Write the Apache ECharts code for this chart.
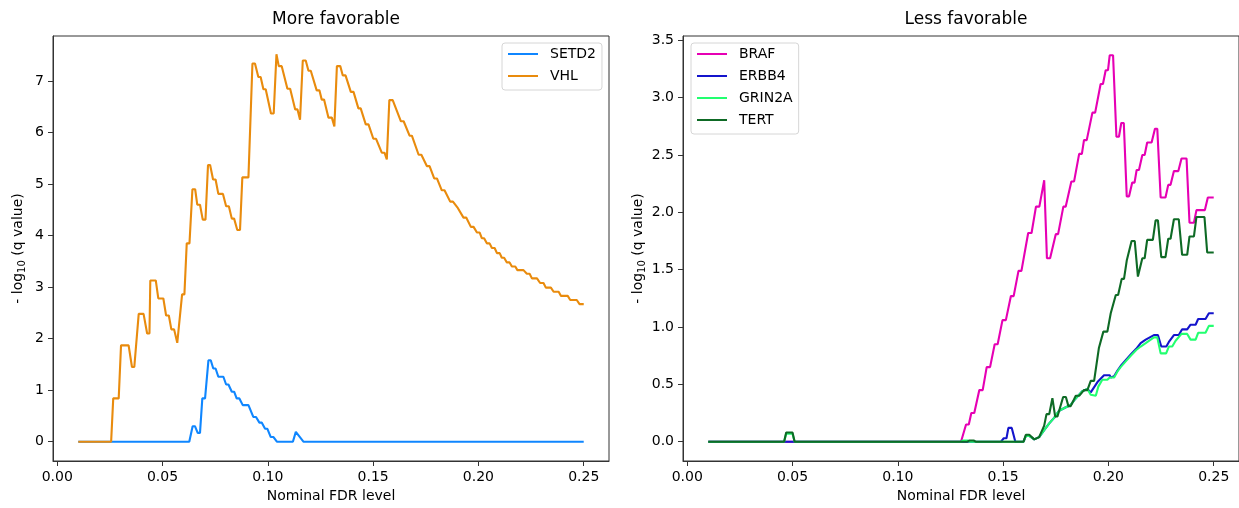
<!DOCTYPE html>
<html>
<head>
<meta charset="utf-8">
<script src="https://cdn.jsdelivr.net/npm/echarts@6/dist/echarts.min.js"></script>
<style>
  html, body { margin: 0; padding: 0; background: #fff; }
  #chart { width: 1239px; height: 508px; }
</style>
</head>
<body>
<div id="chart"></div>
<script>
// tick labels
var xTicks = [0, 0.05, 0.10, 0.15, 0.20, 0.25];
var leftYTicks = [0, 1, 2, 3, 4, 5, 6, 7];
var rightYTicks = [0, 0.5, 1.0, 1.5, 2.0, 2.5, 3.0, 3.5];

// More favorable: [FDR level, -log10 q]
var setd2 = [[0.01,0],[0.0627,0],[0.0643,0.30],[0.0654,0.30],[0.0667,0.17],[0.0678,0.17],[0.0689,0.84],[0.0702,0.84],
  [0.0718,1.58],[0.0729,1.58],[0.0741,1.42],[0.0752,1.42],[0.0765,1.26],[0.0789,1.26],[0.0802,1.11],[0.0813,1.11],
  [0.0829,0.97],[0.084,0.97],[0.0852,0.84],[0.0865,0.84],[0.0881,0.71],[0.0908,0.71],[0.0931,0.48],[0.0944,0.48],
  [0.096,0.37],[0.0971,0.37],[0.0987,0.25],[0.0998,0.25],[0.1014,0.09],[0.1027,0.09],[0.1043,0],[0.1119,0],
  [0.1133,0.19],[0.1141,0.19],[0.1169,0],[0.25,0]];

var vhl = [[0.01,0],[0.0256,0],[0.0266,0.84],[0.0292,0.84],[0.0303,1.87],[0.0339,1.87],[0.0355,1.45],[0.0366,1.45],
  [0.0387,2.48],[0.041,2.48],[0.0427,2.10],[0.0438,2.10],[0.0442,3.13],[0.0468,3.13],[0.048,2.78],[0.0504,2.78],
  [0.0517,2.45],[0.053,2.45],[0.0542,2.18],[0.0555,2.18],[0.057,1.92],[0.0577,1.92],[0.0593,2.86],[0.0604,2.86],
  [0.0615,3.85],[0.0628,3.85],[0.0642,4.90],[0.0655,4.90],[0.0665,4.60],[0.0678,4.60],[0.0691,4.31],[0.0704,4.31],
  [0.0716,5.37],[0.0726,5.37],[0.074,5.09],[0.0752,5.09],[0.0765,4.81],[0.0787,4.81],[0.0802,4.57],[0.0815,4.57],
  [0.0829,4.33],[0.084,4.33],[0.0855,4.11],[0.0868,4.11],[0.0879,5.13],[0.0908,5.13],[0.0927,7.34],[0.0939,7.34],
  [0.0955,7.08],[0.0966,7.08],[0.0979,6.84],[0.099,6.84],[0.1015,6.37],[0.1028,6.37],[0.1041,7.52],[0.1052,7.29],
  [0.1066,7.29],[0.1093,6.85],[0.1106,6.85],[0.113,6.45],[0.1141,6.45],[0.1153,6.25],[0.1166,7.40],[0.118,7.40],
  [0.1193,7.20],[0.1204,7.20],[0.1232,6.82],[0.1245,6.82],[0.1256,6.64],[0.1267,6.64],[0.1288,6.29],[0.1304,6.29],
  [0.1316,6.12],[0.1328,7.29],[0.1344,7.29],[0.1356,7.11],[0.1369,7.11],[0.1394,6.79],[0.1407,6.79],[0.143,6.47],
  [0.1441,6.47],[0.1465,6.16],[0.1478,6.16],[0.1501,5.88],[0.1514,5.88],[0.1541,5.61],[0.1554,5.61],[0.1565,5.48],
  [0.1577,6.63],[0.1593,6.63],[0.1632,6.22],[0.1645,6.22],[0.1673,5.94],[0.1684,5.94],[0.1716,5.57],[0.1729,5.57],
  [0.1755,5.35],[0.1768,5.35],[0.179,5.11],[0.1803,5.11],[0.1826,4.88],[0.1839,4.88],[0.1866,4.66],[0.1879,4.66],
  [0.19,4.55],[0.1929,4.35],[0.1942,4.35],[0.1964,4.17],[0.1977,4.17],[0.1993,4.06],[0.2006,4.06],[0.2016,3.95],
  [0.2027,3.95],[0.204,3.85],[0.2053,3.85],[0.2064,3.76],[0.2077,3.76],[0.2088,3.66],[0.2101,3.66],[0.2111,3.57],
  [0.2122,3.57],[0.2135,3.48],[0.2148,3.48],[0.2159,3.40],[0.2175,3.40],[0.2185,3.33],[0.2214,3.33],[0.223,3.26],
  [0.2243,3.26],[0.2254,3.17],[0.2278,3.17],[0.2293,3.08],[0.2309,3.08],[0.232,2.99],[0.2344,2.99],[0.2357,2.91],
  [0.2381,2.91],[0.2392,2.83],[0.2424,2.83],[0.2436,2.75],[0.2467,2.75],[0.248,2.67],[0.25,2.67]];

// Less favorable
var braf = [[0.01,0],[0.130,0],[0.1324,0.15],[0.1337,0.15],[0.1349,0.25],[0.1363,0.25],[0.1387,0.45],[0.1403,0.45],
  [0.1422,0.65],[0.1438,0.65],[0.146,0.85],[0.1474,0.85],[0.1497,1.06],[0.1513,1.06],[0.1537,1.27],[0.155,1.27],
  [0.1573,1.49],[0.1587,1.49],[0.1619,1.82],[0.1635,1.82],[0.1656,2.05],[0.1672,2.05],[0.1695,2.28],[0.1708,1.60],
  [0.1723,1.60],[0.175,1.81],[0.1761,1.81],[0.1786,2.05],[0.1797,2.05],[0.1824,2.27],[0.1837,2.27],[0.1861,2.51],
  [0.1874,2.51],[0.1884,2.63],[0.1897,2.63],[0.1924,2.87],[0.1937,2.87],[0.1963,3.12],[0.1974,3.12],[0.1987,3.24],
  [0.1998,3.24],[0.2006,3.37],[0.2022,3.37],[0.2038,2.66],[0.205,2.66],[0.2061,2.78],[0.2073,2.78],[0.2087,2.14],
  [0.2098,2.14],[0.2113,2.26],[0.2124,2.26],[0.2134,2.37],[0.2145,2.37],[0.2161,2.50],[0.2172,2.50],[0.2184,2.61],
  [0.2205,2.61],[0.2221,2.73],[0.2232,2.73],[0.2248,2.13],[0.2271,2.13],[0.2284,2.24],[0.2295,2.24],[0.2311,2.36],
  [0.2332,2.36],[0.2347,2.47],[0.2371,2.47],[0.2385,1.91],[0.2406,1.91],[0.2418,2.02],[0.2458,2.02],[0.2472,2.13],
  [0.25,2.13]];

var erbb4 = [[0.01,0],[0.149,0],[0.1503,0.03],[0.1516,0.03],[0.1525,0.12],[0.1541,0.12],[0.1558,0],[0.1597,0],
  [0.1608,0.05],[0.1624,0.05],[0.1648,0.02],[0.1671,0.04],[0.1695,0.10],[0.1719,0.16],[0.1743,0.21],[0.1766,0.27],
  [0.1798,0.30],[0.1821,0.32],[0.1837,0.36],[0.1861,0.41],[0.1876,0.44],[0.19,0.46],[0.1916,0.43],[0.1924,0.43],
  [0.1948,0.52],[0.1979,0.58],[0.2006,0.58],[0.2011,0.56],[0.2027,0.57],[0.2043,0.62],[0.2058,0.66],[0.2082,0.71],
  [0.2106,0.76],[0.2132,0.81],[0.2153,0.86],[0.2177,0.89],[0.2216,0.93],[0.2235,0.93],[0.2251,0.83],[0.2275,0.83],
  [0.2287,0.87],[0.2311,0.93],[0.2334,0.93],[0.235,0.98],[0.2374,0.98],[0.239,1.02],[0.2414,1.02],[0.2426,1.07],
  [0.2461,1.07],[0.2477,1.12],[0.25,1.12]];

var grin2a = [[0.01,0],[0.046,0],[0.047,0.07],[0.050,0.07],[0.051,0],[0.130,0],[0.131,0.01],[0.133,0.01],[0.134,0],
  [0.1597,0],[0.1608,0.05],[0.1624,0.05],[0.1648,0.02],[0.1671,0.04],[0.1695,0.10],[0.1719,0.16],[0.1743,0.21],
  [0.1766,0.27],[0.1798,0.30],[0.1821,0.32],[0.1837,0.36],[0.1861,0.41],[0.1876,0.44],[0.19,0.46],[0.1916,0.41],
  [0.1924,0.40],[0.194,0.40],[0.1952,0.48],[0.1971,0.54],[0.1995,0.54],[0.2006,0.56],[0.2027,0.56],[0.2042,0.61],
  [0.2058,0.65],[0.2082,0.70],[0.2106,0.75],[0.2132,0.80],[0.2153,0.83],[0.2177,0.86],[0.2216,0.91],[0.2232,0.91],
  [0.2248,0.77],[0.2274,0.77],[0.2287,0.83],[0.2303,0.83],[0.2319,0.88],[0.2347,0.94],[0.2374,0.94],[0.239,0.89],
  [0.2414,0.89],[0.2426,0.95],[0.2461,0.95],[0.2477,1.01],[0.25,1.01]];

var tert = [[0.01,0],[0.046,0],[0.047,0.08],[0.050,0.08],[0.051,0],[0.133,0],[0.134,0.01],[0.136,0.01],[0.137,0],
  [0.1597,0],[0.1608,0.06],[0.1624,0.06],[0.1648,0.02],[0.1671,0.04],[0.1695,0.14],[0.1706,0.24],[0.1719,0.24],
  [0.1734,0.38],[0.1747,0.22],[0.1758,0.22],[0.1785,0.39],[0.1798,0.39],[0.181,0.31],[0.1821,0.31],[0.1845,0.40],
  [0.1861,0.40],[0.1884,0.45],[0.19,0.45],[0.1916,0.53],[0.1932,0.53],[0.1955,0.82],[0.1964,0.82],[0.1976,0.96],
  [0.1995,0.96],[0.2011,1.12],[0.2019,1.12],[0.2035,1.28],[0.2046,1.28],[0.2063,1.42],[0.2074,1.42],[0.2087,1.58],
  [0.2094,1.58],[0.211,1.75],[0.2125,1.75],[0.214,1.44],[0.2148,1.44],[0.2161,1.60],[0.2172,1.60],[0.2184,1.76],
  [0.2211,1.76],[0.2224,1.93],[0.2235,1.93],[0.2251,1.61],[0.2271,1.61],[0.2284,1.77],[0.2295,1.77],[0.2311,1.94],
  [0.2334,1.94],[0.235,1.63],[0.2374,1.63],[0.2385,1.79],[0.2406,1.79],[0.2418,1.96],[0.2456,1.96],[0.2469,1.65],
  [0.25,1.65]];

var FONT = 'DejaVu Sans';
var chart = echarts.init(document.getElementById('chart'), null, { renderer: 'canvas' });

function xAxisCfg(idx) {
  return {
    type: 'value', gridIndex: idx, min: -0.002, max: 0.262,
    name: 'Nominal FDR level', nameLocation: 'middle', nameGap: 28,
    nameTextStyle: { fontFamily: FONT, fontSize: 14, color: '#000' },
    axisLine: { show: true, onZero: false, lineStyle: { color: '#333', width: 1 } },
    axisTick: { show: true, length: 5, customValues: xTicks, lineStyle: { color: '#333' } },
    axisLabel: { customValues: xTicks, margin: 9, fontFamily: FONT, fontSize: 14, color: '#000',
      formatter: function (v) { return v.toFixed(2); } },
    splitLine: { show: false }
  };
}
function yAxisCfg(idx, min, max, ticks, digits, gap) {
  return {
    type: 'value', gridIndex: idx, min: min, max: max,
    name: '- log{sub|10} (q value)', nameLocation: 'middle', nameGap: gap,
    nameTextStyle: { fontFamily: FONT, fontSize: 14, color: '#000',
      rich: { sub: { fontFamily: FONT, fontSize: 10, color: '#000', padding: [7, 0, 0, 0] } } },
    axisLine: { show: true, onZero: false, lineStyle: { color: '#333', width: 1 } },
    axisTick: { show: true, length: 5, customValues: ticks, lineStyle: { color: '#333' } },
    axisLabel: { customValues: ticks, margin: 9, fontFamily: FONT, fontSize: 14, color: '#000',
      formatter: function (v) { return v.toFixed(digits); } },
    splitLine: { show: false }
  };
}
function legendCfg(left, top, names) {
  return {
    orient: 'vertical', left: left, top: top, data: names,
    itemWidth: 30, itemHeight: 14, itemGap: 8,
    padding: [4, 6, 7, 5],
    itemStyle: { opacity: 0 },
    backgroundColor: 'rgba(255,255,255,0.8)', borderColor: '#d6d6d6', borderWidth: 1, borderRadius: 3,
    textStyle: { fontFamily: FONT, fontSize: 14, color: '#000', padding: [0, 0, 0, 7] }
  };
}
function lineSeries(name, data, color, idx) {
  return {
    name: name, type: 'line', data: data, xAxisIndex: idx, yAxisIndex: idx,
    symbol: 'none', showSymbol: false, color: color,
    lineStyle: { color: color, width: 2.1 }
  };
}

var option = {
  animation: false,
  backgroundColor: '#fff',
  title: [
    { text: 'More favorable', left: 331, top: 6, textAlign: 'center',
      textStyle: { fontFamily: FONT, fontSize: 17, fontWeight: 'normal', color: '#000' } },
    { text: 'Less favorable', left: 961, top: 6, textAlign: 'center',
      textStyle: { fontFamily: FONT, fontSize: 17, fontWeight: 'normal', color: '#000' } }
  ],
  legend: [
    legendCfg(502, 43, ['SETD2', 'VHL']),
    legendCfg(691, 43, ['BRAF', 'ERBB4', 'GRIN2A', 'TERT'])
  ],
  grid: [
    { left: 53, top: 36, width: 556, height: 425, show: true, borderColor: '#333', borderWidth: 1 },
    { left: 683, top: 36, width: 556, height: 425, show: true, borderColor: '#333', borderWidth: 1 }
  ],
  xAxis: [xAxisCfg(0), xAxisCfg(1)],
  yAxis: [
    yAxisCfg(0, -0.375, 7.875, leftYTicks, 0, 26),
    yAxisCfg(1, -0.1685, 3.5385, rightYTicks, 1, 36)
  ],
  series: [
    lineSeries('SETD2', setd2, '#0f86ff', 0),
    lineSeries('VHL', vhl, '#e98b0d', 0),
    lineSeries('BRAF', braf, '#e600b4', 1),
    lineSeries('ERBB4', erbb4, '#1414cc', 1),
    lineSeries('GRIN2A', grin2a, '#22ff70', 1),
    lineSeries('TERT', tert, '#0e6a25', 1)
  ]
};
chart.setOption(option);
window.addEventListener('resize', chart.resize);
</script>
</body>
</html>
